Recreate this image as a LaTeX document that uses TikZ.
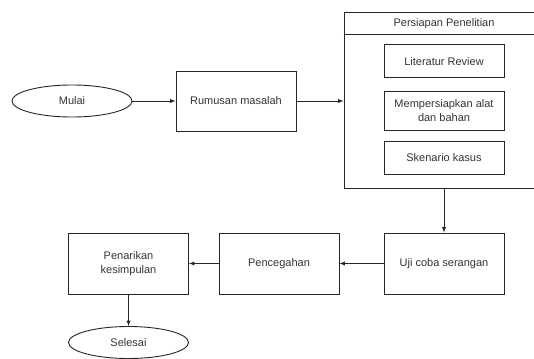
\documentclass[tikz,border=0pt]{standalone}
\usepackage{fontspec}
\setmainfont{Liberation Sans}
\usetikzlibrary{positioning,arrows,shapes}
\usetikzlibrary{shapes.geometric}

\begin{document}
\begin{tikzpicture}[x=1pt, y=-1pt, font=\fontsize{11}{13.5}\selectfont,
    proses/.style={draw=black!85, line width=0.9pt, rectangle, align=center,
      text=black!80, minimum width=120pt, minimum height=60pt, inner sep=1pt},
    terminal/.style={draw=black!85, line width=0.9pt, ellipse, text=black!80,
      minimum width=120pt, minimum height=32pt, inner sep=0pt},
    alur/.style={-latex, draw=black!85, line width=0.9pt}]
%
    \useasboundingbox (0,0) rectangle (534,358);
    \clip (0,0) rectangle (534,358);
%
    \node[terminal] (mulai) at (72,101) {Mulai};
    \node[proses] (rumusan) at (236,101) {Rumusan masalah};
%
    % container
    \node[draw=black!85, line width=0.9pt, minimum width=200pt,
      minimum height=175.5pt, inner sep=0pt] (persiapan) at (444,100.3) {};
    \node[text=black!80] (judul) at (444,24) {Persiapan Penelitian};
    \draw[black!85, line width=0.9pt] ([yshift=-22.8pt]persiapan.north west)
      -- ([yshift=-22.8pt]persiapan.north east);
    \node[proses, minimum height=33pt] (literatur) at (444,61.4) {Literatur Review};
    \node[proses, minimum height=39pt] (alat) at (444,110.5)
      {Mempersiapkan alat\\dan bahan};
    \node[proses, minimum height=33pt] (skenario) at (444,157.7) {Skenario kasus};
%
    \node[proses, minimum height=61pt] (uji) at (444,263.5) {Uji coba serangan};
    \node[proses, minimum height=61pt] (pencegahan) at (279,263.5) {Pencegahan};
    \node[proses, minimum height=61pt] (penarikan) at (128.5,263.5)
      {Penarikan\\kesimpulan};
    \node[terminal] (selesai) at (128.5,342.5) {Selesai};
%
    \draw[alur] (mulai) -- (rumusan);
    \draw[alur] (rumusan.east) -- (rumusan.east -| persiapan.west);
    \draw[alur] (persiapan) -- (uji);
    \draw[alur] (uji) -- (pencegahan);
    \draw[alur] (pencegahan) -- (penarikan);
    \draw[alur] (penarikan) -- (selesai);
\end{tikzpicture}
\end{document}
